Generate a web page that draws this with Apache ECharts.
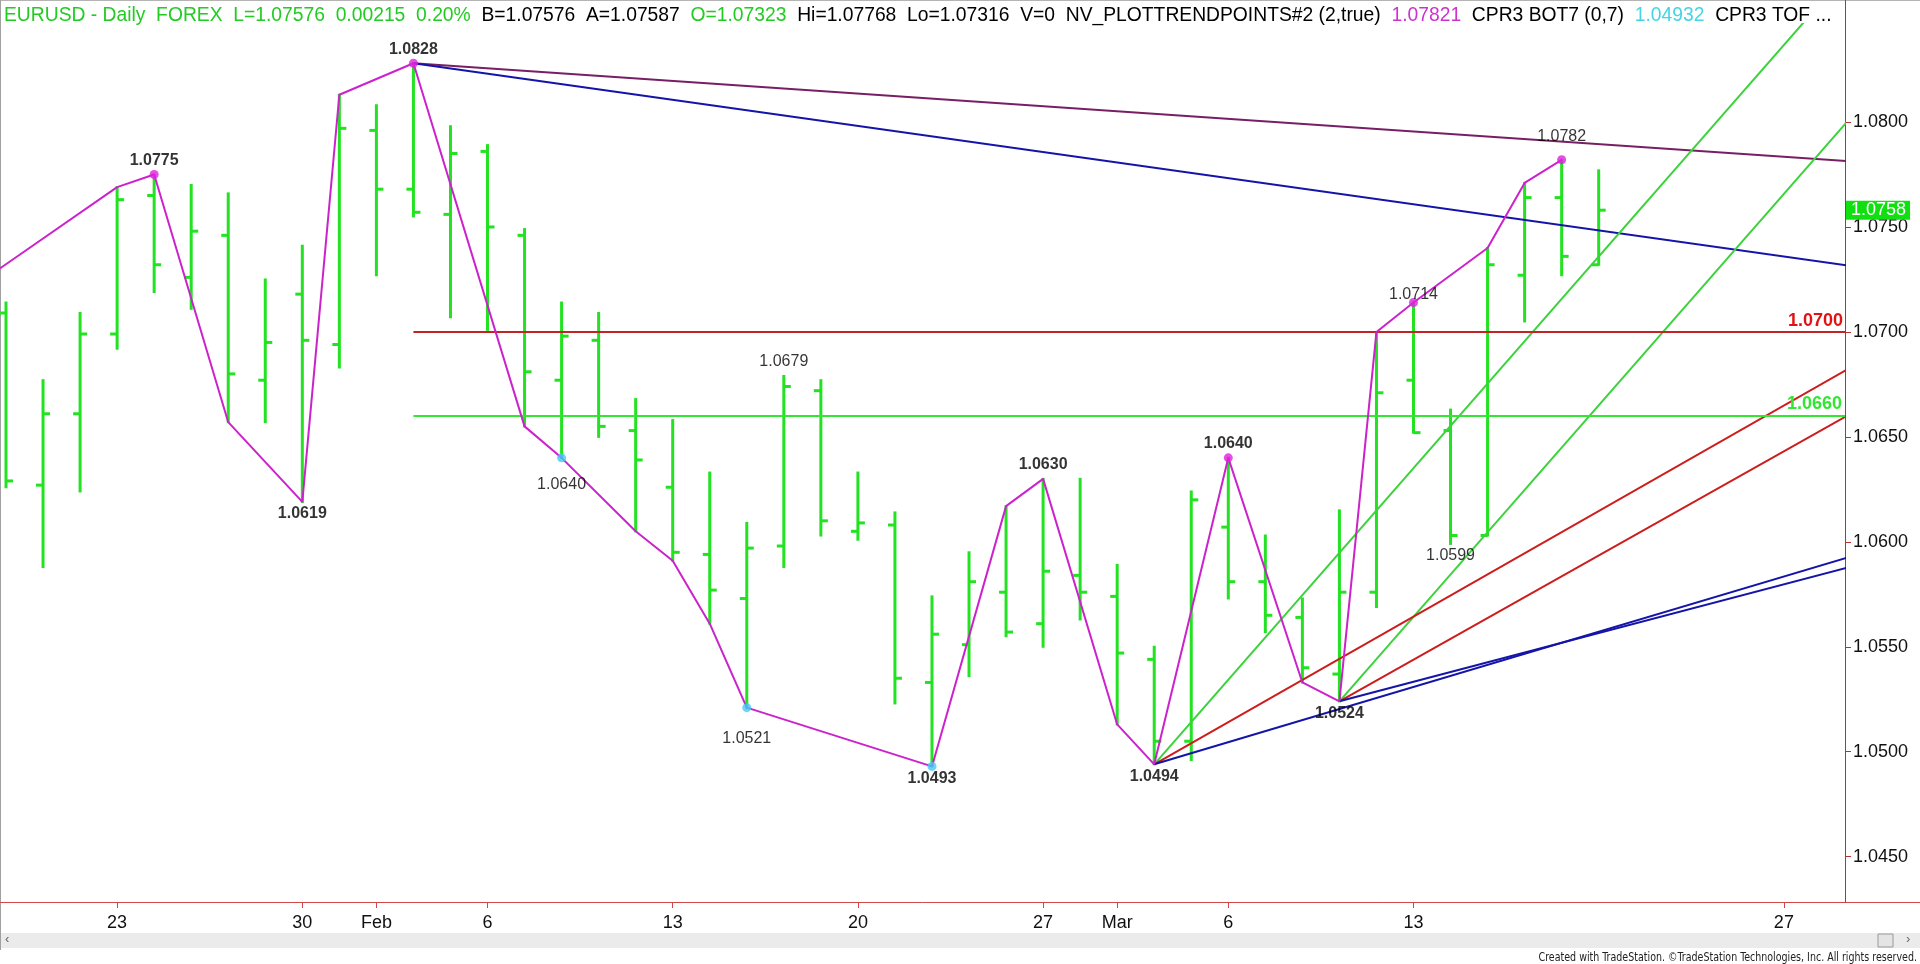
<!DOCTYPE html>
<html>
<head>
<meta charset="utf-8">
<title>EURUSD Daily</title>
<script src="https://cdn.jsdelivr.net/npm/echarts@6/dist/echarts.min.js"></script>
<style>
  html, body { margin: 0; padding: 0; background: #ffffff; }
  #chart { width: 1920px; height: 964px; }
</style>
</head>
<body>
<div id="chart"></div>
<script>
// ---------------- DATA ----------------
// trading days (index on the x axis = position in this list)
const dates = [
  '2017-01-17','2017-01-18','2017-01-19','2017-01-20','2017-01-23','2017-01-24','2017-01-25','2017-01-26','2017-01-27','2017-01-30','2017-01-31',
  '2017-02-01','2017-02-02','2017-02-03','2017-02-06','2017-02-07','2017-02-08','2017-02-09','2017-02-10','2017-02-13','2017-02-14',
  '2017-02-15','2017-02-16','2017-02-17','2017-02-20','2017-02-21','2017-02-22','2017-02-23','2017-02-24','2017-02-27','2017-02-28',
  '2017-03-01','2017-03-02','2017-03-03','2017-03-06','2017-03-07','2017-03-08','2017-03-09','2017-03-10','2017-03-13','2017-03-14',
  '2017-03-15','2017-03-16','2017-03-17','2017-03-20','2017-03-21','2017-03-22','2017-03-23','2017-03-24','2017-03-27','2017-03-28',
  '2017-03-29','2017-03-30','2017-03-31'
];

// daily OHLC bars, 2017-01-18 .. 2017-03-20
const barDates = dates.slice(1, 45);
const opens  = [1.0709,1.0627,1.0661,1.0699,1.0765,1.0726,1.0746,1.0677,1.0718,1.0694,
                1.0796,1.0768,1.0756,1.0786,1.0746,1.0677,1.0696,1.0653,1.0626,1.0594,
                1.0573,1.0598,1.0672,1.0605,1.0608,1.0533,1.0551,1.0576,1.0561,1.0584,
                1.0574,1.0544,1.0505,1.0607,1.0581,1.0564,1.0537,1.0576,1.0677,1.0653,
                1.0603,1.0727,1.0764,1.0732];
const highs  = [1.0714,1.0677,1.0709,1.0769,1.0775,1.0770,1.0766,1.0725,1.0741,1.0813,
                1.0808,1.0828,1.0798,1.0789,1.0749,1.0714,1.0709,1.0668,1.0658,1.0633,
                1.0609,1.0679,1.0677,1.0633,1.0614,1.0574,1.0595,1.0617,1.0630,1.0630,
                1.0589,1.0550,1.0624,1.0640,1.0603,1.0573,1.0615,1.0700,1.0714,1.0663,
                1.0740,1.0771,1.0782,1.0777];
const lows   = [1.0626,1.0588,1.0624,1.0692,1.0719,1.0711,1.0657,1.0657,1.0619,1.0683,
                1.0727,1.0755,1.0707,1.0701,1.0655,1.0640,1.0650,1.0605,1.0591,1.0561,
                1.0521,1.0588,1.0603,1.0601,1.0523,1.0493,1.0536,1.0555,1.0550,1.0563,
                1.0513,1.0494,1.0496,1.0573,1.0557,1.0533,1.0524,1.0569,1.0652,1.0599,
                1.0603,1.0705,1.0727,1.0732];
const closes = [1.0629,1.0661,1.0699,1.0763,1.0732,1.0748,1.0680,1.0695,1.0696,1.0797,
                1.0768,1.0757,1.0785,1.0750,1.0681,1.0698,1.0655,1.0639,1.0595,1.0577,
                1.0597,1.0674,1.0610,1.0609,1.0535,1.0556,1.0581,1.0557,1.0586,1.0576,
                1.0547,1.0505,1.0620,1.0581,1.0565,1.0540,1.0576,1.0671,1.0652,1.0603,
                1.0732,1.0764,1.0736,1.0758];

// trend-point zigzag (NV_PLOTTRENDPOINTS)
const zigzag = [
  ['2017-01-17',1.0720],['2017-01-23',1.0769],['2017-01-24',1.0775],['2017-01-26',1.0657],
  ['2017-01-30',1.0619],['2017-01-31',1.0813],['2017-02-02',1.0828],['2017-02-07',1.0655],
  ['2017-02-08',1.0640],['2017-02-10',1.0605],['2017-02-13',1.0591],['2017-02-14',1.0561],
  ['2017-02-15',1.0521],['2017-02-22',1.0493],['2017-02-24',1.0617],['2017-02-27',1.0630],
  ['2017-03-01',1.0513],['2017-03-02',1.0494],['2017-03-06',1.0640],['2017-03-08',1.0533],
  ['2017-03-09',1.0524],['2017-03-10',1.0700],['2017-03-13',1.0714],['2017-03-15',1.0740],
  ['2017-03-16',1.0771],['2017-03-17',1.0782]
];
const magentaDots = [['2017-01-24',1.0775],['2017-02-02',1.0828],['2017-03-06',1.0640],['2017-03-13',1.0714],['2017-03-17',1.0782]];
const cyanDots    = [['2017-02-08',1.0640],['2017-02-15',1.0521],['2017-02-22',1.0493]];

// pivot price labels: [date, price, side]
const pivotLabels = [
  ['2017-01-24',1.0775,'H'],['2017-01-30',1.0619,'L'],['2017-02-02',1.0828,'H'],['2017-02-08',1.0640,'L'],
  ['2017-02-15',1.0521,'L'],['2017-02-16',1.0679,'H'],['2017-02-22',1.0493,'L'],['2017-02-27',1.0630,'H'],
  ['2017-03-02',1.0494,'L'],['2017-03-06',1.0640,'H'],['2017-03-09',1.0524,'L'],['2017-03-13',1.0714,'H'],
  ['2017-03-14',1.0599,'L'],['2017-03-17',1.0782,'H']
];

// trend lines: [start, end]
const tlTopPurple = [['2017-02-02',1.0828],['2017-03-29',1.0781]];
const tlTopBlue   = [['2017-02-02',1.0828],['2017-03-29',1.0731]];
const tlGreenA    = [['2017-03-02',1.0494],['2017-03-29',1.0877]];
const tlGreenB    = [['2017-03-09',1.0524],['2017-03-29',1.0806]];
const tlRedA      = [['2017-03-02',1.0494],['2017-03-29',1.0685]];
const tlRedB      = [['2017-03-09',1.0524],['2017-03-29',1.0663]];
const tlBlueA     = [['2017-03-02',1.0494],['2017-03-29',1.0594]];
const tlBlueB     = [['2017-03-09',1.0524],['2017-03-29',1.0589]];

// horizontal levels starting at the Feb 2 high
const levelStart = '2017-02-02';
const levelRed   = 1.0700;
const levelGreen = 1.0660;

// axis ticks
const priceTicks   = [1.0450,1.0500,1.0550,1.0600,1.0650,1.0700,1.0750,1.0800];
const xTickDates   = ['2017-01-23','2017-01-30','2017-02-01','2017-02-06','2017-02-13','2017-02-20','2017-02-27','2017-03-01','2017-03-06','2017-03-13','2017-03-27'];
const xTickLabels  = ['23','30','Feb','6','13','20','27','Mar','6','13','27'];

// header
const header = {
  symbolText: 'EURUSD - Daily  FOREX  L=1.07576  0.00215  0.20%  ',
  bidAsk: 'B=1.07576  A=1.07587  ',
  open: 'O=1.07323  ',
  rest: 'Hi=1.07768  Lo=1.07316  V=0  NV_PLOTTRENDPOINTS#2 (2,true)  ',
  tpValue: '1.07821  ',
  bot: 'CPR3 BOT7 (0,7)  ',
  botValue: '1.04932  ',
  top: 'CPR3 TOF ...'
};

// ---------------- CHART ----------------
const idx = d => dates.indexOf(d);
const X_MIN = 0.838, X_MAX = 50.65;
const Y_MIN = 1.04284, Y_MAX = 1.08467;
const FONT = "'Liberation Sans', Arial, sans-serif";
const HF = 19.3;

const BAR_GREEN = '#22e222';
const tickLabelMap = {};
xTickDates.forEach((d, i) => { tickLabelMap[idx(d)] = xTickLabels[i]; });

const ohlcData = barDates.map((d, i) => [idx(d), opens[i], highs[i], lows[i], closes[i]]);
const toXY = arr => arr.map(p => [idx(p[0]), p[1]]);

function trendSeries(pts, color, width) {
  return {
    type: 'line', data: toXY(pts), showSymbol: false, symbol: 'none', clip: true,
    lineStyle: { color: color, width: width }, silent: true, z: 4
  };
}

const boldSet = { '2017-01-24': 1, '2017-01-30': 1, '2017-02-02': 1, '2017-02-22': 1, '2017-02-27': 1, '2017-03-02': 1, '2017-03-06': 1, '2017-03-09': 1 };
const labelOffsetOverride = { '2017-02-08': 27, '2017-02-15': 31, '2017-03-17': -23, '2017-03-13': -8 };

const labelData = pivotLabels.map(p => {
  const dy = labelOffsetOverride[p[0]] !== undefined ? labelOffsetOverride[p[0]] : (p[2] === 'H' ? -14 : 12);
  return {
    value: [idx(p[0]), p[1]],
    label: {
      show: true, position: 'inside', offset: [0, dy],
      formatter: p[1].toFixed(4),
      fontWeight: boldSet[p[0]] ? 'bold' : 'normal'
    }
  };
});

const lastClose = closes[closes.length - 1];

const chart = echarts.init(document.getElementById('chart'), null, { renderer: 'canvas' });

const richStyle = c => ({ color: c, fontSize: HF, fontFamily: FONT, lineHeight: 19 });

const option = {
  animation: false,
  backgroundColor: '#ffffff',
  title: {
    left: 4, top: 6, padding: 0,
    text: '{g|' + header.symbolText + '}{k|' + header.bidAsk + '}{g|' + header.open + '}{k|' + header.rest +
          '}{m|' + header.tpValue + '}{k|' + header.bot + '}{c|' + header.botValue + '}{k|' + header.top + '}',
    textStyle: {
      fontSize: HF, fontFamily: FONT, fontWeight: 'normal', lineHeight: 19,
      rich: {
        g: richStyle('#22cc22'),
        k: richStyle('#000000'),
        m: richStyle('#cc33cc'),
        c: richStyle('#44d4e4')
      }
    }
  },
  grid: { left: 0, right: 75, top: 24, bottom: 62, containLabel: false },
  xAxis: {
    type: 'value', min: X_MIN, max: X_MAX, position: 'bottom',
    axisLine: { show: true, lineStyle: { color: '#d04848', width: 1 } },
    axisTick: { show: true, length: 6, customValues: xTickDates.map(idx), lineStyle: { color: '#d04848' } },
    axisLabel: {
      show: true, customValues: xTickDates.map(idx), margin: 12,
      formatter: v => tickLabelMap[Math.round(v)] || '',
      color: '#111111', fontSize: 18, fontFamily: FONT
    },
    splitLine: { show: false }
  },
  yAxis: {
    type: 'value', min: Y_MIN, max: Y_MAX, position: 'right', scale: true,
    axisLine: { show: true, lineStyle: { color: '#b83030', width: 1 } },
    axisTick: { show: true, length: 6, customValues: priceTicks, lineStyle: { color: '#b83030' } },
    axisLabel: {
      show: true, customValues: priceTicks, margin: 8,
      formatter: v => v.toFixed(4),
      color: '#111111', fontSize: 18, fontFamily: FONT
    },
    splitLine: { show: false }
  },
  series: [
    // horizontal levels
    {
      type: 'line', data: [], silent: true, z: 2,
      markLine: {
        silent: true, symbol: 'none', animation: false,
        data: [
          [{ coord: [idx(levelStart), levelRed] }, { coord: [X_MAX, levelRed] }]
        ],
        lineStyle: { color: '#c02424', width: 2, type: 'solid' },
        label: { show: true, position: 'insideEndTop', distance: 2, formatter: levelRed.toFixed(4),
                 color: '#e01414', fontWeight: 'bold', fontSize: 18, fontFamily: FONT }
      }
    },
    {
      type: 'line', data: [], silent: true, z: 2,
      markLine: {
        silent: true, symbol: 'none', animation: false,
        data: [
          [{ coord: [idx(levelStart), levelGreen] }, { coord: [X_MAX, levelGreen] }]
        ],
        lineStyle: { color: '#33e633', width: 2, type: 'solid' },
        label: { show: true, position: 'insideEndTop', distance: 3, formatter: levelGreen.toFixed(4),
                 color: '#33e633', fontWeight: 'bold', fontSize: 18, fontFamily: FONT }
      }
    },
    // OHLC bars
    {
      type: 'custom', clip: true, z: 3,
      data: ohlcData,
      renderItem: function (params, api) {
        const x = api.value(0);
        const pH = api.coord([x, api.value(2)]);
        const pL = api.coord([x, api.value(3)]);
        const pO = api.coord([x, api.value(1)]);
        const pC = api.coord([x, api.value(4)]);
        const st = { stroke: BAR_GREEN, lineWidth: 3 };
        return {
          type: 'group',
          children: [
            { type: 'line', shape: { x1: pH[0], y1: pH[1] - 1, x2: pL[0], y2: pL[1] + 1 }, style: st },
            { type: 'line', shape: { x1: pO[0] - 7, y1: pO[1], x2: pO[0], y2: pO[1] }, style: st },
            { type: 'line', shape: { x1: pC[0], y1: pC[1], x2: pC[0] + 7, y2: pC[1] }, style: st }
          ]
        };
      }
    },
    // trend lines
    trendSeries(tlTopPurple, '#781e64', 2),
    trendSeries(tlTopBlue, '#1414a8', 2),
    trendSeries(tlGreenA, '#3cd23c', 2),
    trendSeries(tlGreenB, '#3cd23c', 2),
    trendSeries(tlRedA, '#cc1c1c', 2),
    trendSeries(tlRedB, '#cc1c1c', 2),
    trendSeries(tlBlueA, '#1414a8', 2),
    trendSeries(tlBlueB, '#1414a8', 2),
    // zigzag
    {
      type: 'line', data: toXY(zigzag), showSymbol: false, symbol: 'none', clip: true, z: 5, silent: true,
      lineStyle: { color: '#cc22cc', width: 2 }
    },
    // dots
    {
      type: 'scatter', data: toXY(magentaDots), symbol: 'circle', symbolSize: 9, z: 6, silent: true,
      itemStyle: { color: '#e020e0' }
    },
    {
      type: 'scatter', data: toXY(cyanDots), symbol: 'circle', symbolSize: 9, z: 6, silent: true,
      itemStyle: { color: '#44c8f8' }
    },
    // pivot labels
    {
      type: 'scatter', data: labelData, symbolSize: 0, z: 7, silent: true,
      label: { show: true, color: '#000000', fontSize: 16, fontFamily: FONT }
    },
    // last price tag on the axis
    {
      type: 'line', data: [], silent: true, z: 8,
      markLine: {
        silent: true, symbol: 'none', animation: false,
        data: [
          [{ coord: [X_MIN, lastClose] }, { coord: [X_MAX, lastClose] }]
        ],
        lineStyle: { color: 'rgba(0,0,0,0)', width: 0 },
        label: { show: true, position: 'end', distance: 1, formatter: lastClose.toFixed(4),
                 color: '#ffffff', backgroundColor: '#10e010', padding: [1, 4, 0, 5],
                 fontSize: 18, fontFamily: FONT }
      }
    }
  ],
  graphic: [
    // frame
    { type: 'line', silent: true, shape: { x1: 0, y1: 0.5, x2: 1920, y2: 0.5 }, style: { stroke: '#b4b4b4', lineWidth: 1 } },
    { type: 'line', silent: true, shape: { x1: 0.5, y1: 0, x2: 0.5, y2: 950 }, style: { stroke: '#a0a0a0', lineWidth: 1 } },
    // right axis line through header row
    { type: 'line', silent: true, shape: { x1: 1845.5, y1: 0, x2: 1845.5, y2: 24 }, style: { stroke: '#b83030', lineWidth: 1 } },
    // bottom axis line under price scale
    { type: 'line', silent: true, shape: { x1: 1845, y1: 902.5, x2: 1920, y2: 902.5 }, style: { stroke: '#d04848', lineWidth: 1 } },
    // scrollbar
    { type: 'rect', silent: true, shape: { x: 1, y: 933, width: 1919, height: 15 }, style: { fill: '#ebebeb' } },
    { type: 'text', silent: true, left: 5, top: 933, style: { text: '‹', fill: '#666', font: '13px ' + FONT } },
    { type: 'rect', silent: true, shape: { x: 1878, y: 934, width: 15, height: 13 }, style: { fill: '#e4e4e4', stroke: '#9a9a9a', lineWidth: 1 } },
    { type: 'text', silent: true, left: 1906, top: 933, style: { text: '›', fill: '#666', font: '13px ' + FONT } },
    // footer
    { type: 'text', silent: true, x: 1917, y: 951, scaleX: 0.845, originX: 0,
      style: { text: 'Created with TradeStation. ©TradeStation Technologies, Inc. All rights reserved.',
               align: 'right', fill: '#222', font: "12.5px 'Liberation Sans Narrow', 'DejaVu Sans Condensed', sans-serif" } }
  ]
};

chart.setOption(option);
</script>
</body>
</html>
